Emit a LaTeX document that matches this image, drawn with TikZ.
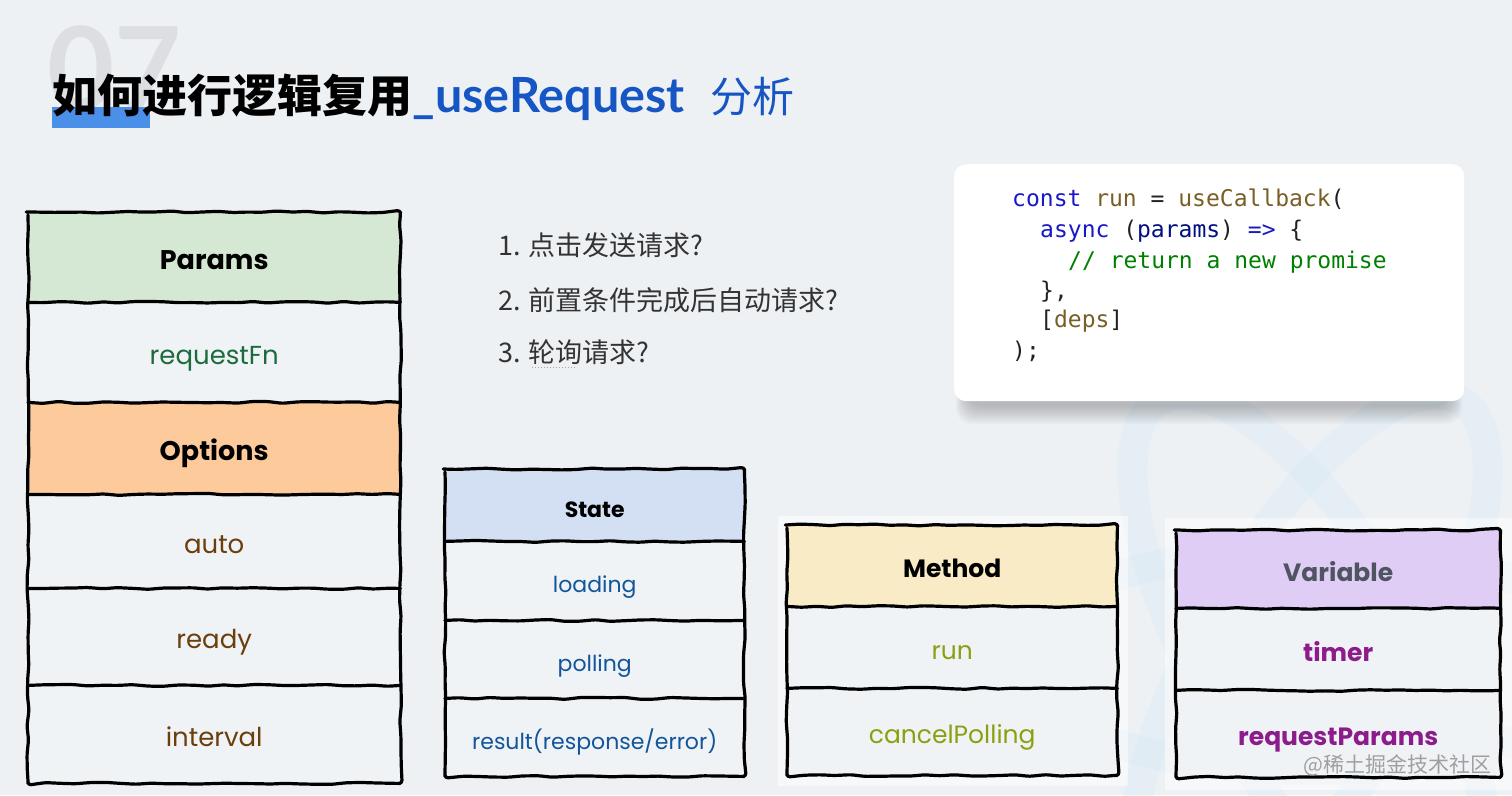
\documentclass[tikz,border=0pt]{standalone}
\usepackage{fontspec}
\setmainfont{Noto Sans}
\newfontfamily\cjk{Noto Sans CJK SC}
\newfontfamily\codefont{DejaVu Sans Mono}
\newfontfamily\hand{Poppins}
\newfontfamily\titlelat{Lato}
\usetikzlibrary{decorations.pathmorphing,shadows.blur}
\definecolor{bg}{HTML}{EEF1F4}
\definecolor{cellbg}{HTML}{F0F3F6}
\definecolor{pgreen}{HTML}{D5E8D4}
\definecolor{porange}{HTML}{FDCB9B}
\definecolor{pblue}{HTML}{D3DFF3}
\definecolor{pyellow}{HTML}{F8EBC5}
\definecolor{ppurple}{HTML}{DFCDF6}
\definecolor{tgreen}{HTML}{1B6B3C}
\definecolor{tbrown}{HTML}{6B3E0B}
\definecolor{tblue}{HTML}{12559A}
\definecolor{tolive}{HTML}{8AA010}
\definecolor{tpurple}{HTML}{8C1C8C}
\definecolor{tgray}{HTML}{4F5560}
\definecolor{titleblue}{HTML}{1655C4}
\definecolor{hl}{HTML}{4A8FE8}
\definecolor{numgray}{HTML}{DCDEE1}
\definecolor{kw}{HTML}{1818C8}
\definecolor{fn}{HTML}{795E26}
\definecolor{par}{HTML}{001080}
\definecolor{cmt}{HTML}{008000}
\definecolor{codetext}{HTML}{222222}
\definecolor{listtext}{HTML}{333333}
\definecolor{react}{HTML}{DCEBF4}
\tikzset{
  sketch/.style={line width=3.2pt, line join=round, line cap=round,
    decorate, decoration={random steps, segment length=15pt, amplitude=1pt},
    rounded corners=3pt},
  cell/.style={anchor=north west, inner sep=0pt, text height=25pt, text depth=1pt},
  hdr/.style={font=\hand\bfseries\fontsize{27}{30}\selectfont, text=black},
  val/.style={font=\hand\fontsize{26}{30}\selectfont},
  listitem/.style={anchor=base west, inner sep=0pt, font=\cjk\fontsize{27}{30}\selectfont, text=listtext},
  codeline/.style={anchor=base west, inner sep=0pt, font=\codefont\fontsize{23}{26}\selectfont, text=codetext},
  titletext/.style={anchor=base west, inner sep=0pt},
}
\pgfmathsetseed{7}
\begin{document}
\begin{tikzpicture}[x=1pt,y=-1pt]
\useasboundingbox (0,0) rectangle (1512,795);
\fill[bg] (0,0) rectangle (1512,795);
% faint React logo in the background
\begin{scope}
\clip (0,0) rectangle (1512,795);
\foreach \a in {0,60,120}
  \draw[react, line width=30pt, opacity=0.45, rotate around={\a:(1310,660)}] (1310,660) ellipse [x radius=300, y radius=110];
\end{scope}
% title
\node[titletext, font=\titlelat\bfseries\fontsize{116}{118}\selectfont, text=numgray] (num) at (47,110) {07};
\fill[hl] (52,107) rectangle (150,128);
\node[titletext, font=\cjk\bfseries\fontsize{45}{50}\selectfont, text=black] (t1) at (52,112) {如何进行逻辑复用};
\node[titletext, font=\titlelat\bfseries\fontsize{48.5}{52}\selectfont, text=titleblue] (t2) at (t1.base east) {\_useRequest};
\node[titletext, font=\cjk\fontsize{42}{46}\selectfont, text=titleblue] (t3) at (710,112) {分析};
% questions
\node[listitem] (q1) at (498,255) {1. 点击发送请求?};
\node[listitem] (q2) at (498,310) {2. 前置条件完成后自动请求?};
\node[listitem] (q3) at (498,362) {3. 轮询请求?};
\draw[gray!70, dotted, line width=1pt] (532,367) -- (577,367);
% code box with soft shadow
\foreach \k in {1,...,12}
  \fill[black, opacity=0.018, rounded corners=16pt] (954+14-\k,164+14-\k) rectangle (1464-14+\k,401+4+1.6*\k);
\node[anchor=north west, fill=white, rounded corners=12pt, minimum width=510pt, minimum height=237pt, inner sep=0pt] (codebox) at (954,164) {};
\node[codeline] (c1) at (1012,206) {\textcolor{kw}{const} \textcolor{fn}{run} = \textcolor{fn}{useCallback}(};
\node[codeline] (c2) at (1040,237) {\textcolor{kw}{async} (\textcolor{par}{params}) \textcolor{kw}{=>} \{};
\node[codeline] (c3) at (1068,268) {\textcolor{cmt}{// return a new promise}};
\node[codeline] (c4) at (1040,298) {\},};
\node[codeline] (c5) at (1040,327) {[\textcolor{fn}{deps}]};
\node[codeline] (c6) at (1012,358) {);};
% white backing of the right-hand tables
\fill[white, opacity=0.5] (778,516) rectangle (1128,786);
\fill[white, opacity=0.5] (1165,518) rectangle (1512,790);
% ---- Params / Options table
\node[cell, hdr, fill=pgreen, minimum width=372pt, minimum height=90pt] (lp) at (28,212) {Params};
\node[cell, val, fill=cellbg, text=tgreen, minimum width=372pt, minimum height=100pt] (lrf) at (28,302) {requestFn};
\node[cell, hdr, fill=porange, minimum width=372pt, minimum height=92pt] (lopt) at (28,402) {Options};
\node[cell, val, fill=cellbg, text=tbrown, minimum width=372pt, minimum height=94pt] (lauto) at (28,494) {auto};
\node[cell, val, fill=cellbg, text=tbrown, minimum width=372pt, minimum height=97pt] (lready) at (28,588) {ready};
\node[cell, val, fill=cellbg, text=tbrown, minimum width=372pt, minimum height=98pt] (lint) at (28,685) {interval};
\draw[sketch] (lp.north west) rectangle (lint.south east);
\foreach \n in {lp,lrf,lopt,lauto,lready} \draw[sketch] (\n.south west) -- (\n.south east);
% ---- State table
\node[cell, hdr, font=\hand\bfseries\fontsize{22}{26}\selectfont, fill=pblue, minimum width=299pt, minimum height=72pt] (sst) at (445,469) {State};
\node[cell, val, font=\hand\fontsize{22}{26}\selectfont, fill=cellbg, text=tblue, minimum width=299pt, minimum height=79pt] (sload) at (445,541) {loading};
\node[cell, val, font=\hand\fontsize{22}{26}\selectfont, fill=cellbg, text=tblue, minimum width=299pt, minimum height=78pt] (spoll) at (445,620) {polling};
\node[cell, val, font=\hand\fontsize{22}{26}\selectfont, fill=cellbg, text=tblue, minimum width=299pt, minimum height=78pt] (sres) at (445,698) {result(response/error)};
\draw[sketch] (sst.north west) rectangle (sres.south east);
\foreach \n in {sst,sload,spoll} \draw[sketch] (\n.south west) -- (\n.south east);
% ---- Method table
\node[cell, hdr, font=\hand\bfseries\fontsize{25}{28}\selectfont, fill=pyellow, minimum width=330pt, minimum height=81pt] (mh) at (787,525) {Method};
\node[cell, val, font=\hand\fontsize{25}{28}\selectfont, fill=cellbg, text=tolive, minimum width=330pt, minimum height=82pt] (mrun) at (787,606) {run};
\node[cell, val, font=\hand\fontsize{25}{28}\selectfont, fill=cellbg, text=tolive, minimum width=330pt, minimum height=87pt] (mcan) at (787,688) {cancelPolling};
\draw[sketch] (mh.north west) rectangle (mcan.south east);
\foreach \n in {mh,mrun} \draw[sketch] (\n.south west) -- (\n.south east);
% ---- Variable table
\node[cell, hdr, font=\hand\bfseries\fontsize{25}{28}\selectfont, fill=ppurple, text=tgray, minimum width=324pt, minimum height=78pt] (vh) at (1176,530) {Variable};
\node[cell, val, font=\hand\bfseries\fontsize{25}{28}\selectfont, fill=cellbg, text=tpurple, minimum width=324pt, minimum height=82pt] (vtim) at (1176,608) {timer};
\node[cell, val, font=\hand\bfseries\fontsize{25}{28}\selectfont, fill=cellbg, text=tpurple, minimum width=324pt, minimum height=87pt] (vreq) at (1176,690) {requestParams};
\draw[sketch] (vh.north west) rectangle (vreq.south east);
\foreach \n in {vh,vtim} \draw[sketch] (\n.south west) -- (\n.south east);
% watermark
\node[anchor=base east, inner sep=0pt, font=\cjk\fontsize{21}{24}\selectfont, text=gray!75] (wm) at (1492,772) {@稀土掘金技术社区};
\end{tikzpicture}
\end{document}
